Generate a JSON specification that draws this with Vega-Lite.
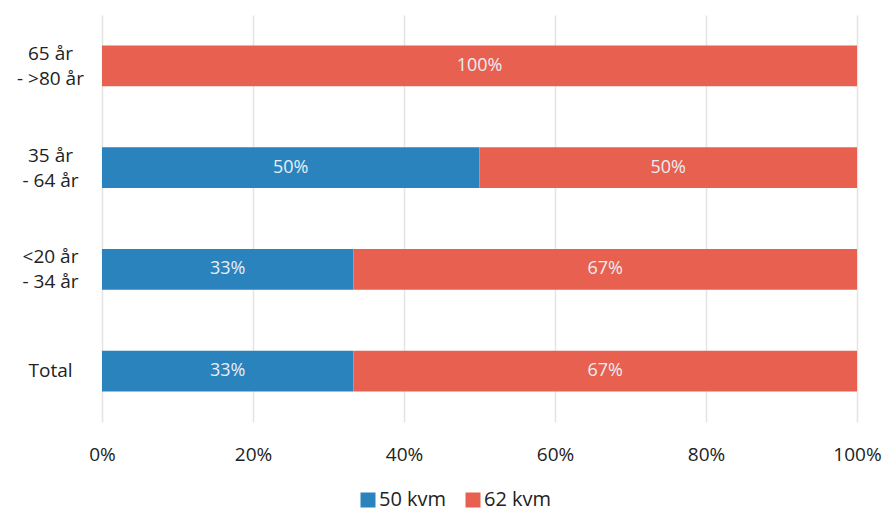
{
  "$schema": "https://vega.github.io/schema/vega-lite/v6.json",
  "autosize": "none",
  "width": 755,
  "height": 407,
  "padding": {"left": 102, "top": 15, "right": 30, "bottom": 92},
  "background": "white",
  "data": {
    "values": [
      {"group": "65 år|- >80 år", "size": "50 kvm", "pct": 0, "label": ""},
      {"group": "65 år|- >80 år", "size": "62 kvm", "pct": 100, "label": "100%"},
      {"group": "35 år|- 64 år", "size": "50 kvm", "pct": 50, "label": "50%"},
      {"group": "35 år|- 64 år", "size": "62 kvm", "pct": 50, "label": "50%"},
      {"group": "<20 år|- 34 år", "size": "50 kvm", "pct": 33.3, "label": "33%"},
      {"group": "<20 år|- 34 år", "size": "62 kvm", "pct": 66.7, "label": "67%"},
      {"group": "Total", "size": "50 kvm", "pct": 33.3, "label": "33%"},
      {"group": "Total", "size": "62 kvm", "pct": 66.7, "label": "67%"}
    ]
  },
  "config": {
    "font": "Open Sans",
    "view": {"stroke": null}
  },
  "encoding": {
    "y": {
      "field": "group",
      "type": "nominal",
      "sort": null,
      "title": null,
      "scale": {"paddingInner": 0.6, "paddingOuter": 0.3},
      "axis": {
        "domain": false,
        "ticks": false,
        "labelExpr": "split(datum.label, '|')",
        "labelAlign": "center",
        "labelPadding": 52,
        "labelFontSize": 19,
        "labelColor": "#222222",
        "labelLineHeight": 25,
        "labelOffset": {"condition": {"test": "indexof(datum.value, '|') >= 0", "value": -12}, "value": 0}
      }
    }
  },
  "layer": [
    {
      "mark": {"type": "bar"},
      "encoding": {
        "x": {
          "field": "pct",
          "type": "quantitative",
          "stack": "zero",
          "scale": {"domain": [0, 100]},
          "title": null,
          "axis": {
            "values": [0, 20, 40, 60, 80, 100],
            "labelExpr": "datum.value + '%'",
            "domain": false,
            "ticks": false,
            "grid": true,
            "gridColor": "#e4e4e4",
            "gridWidth": 1.5,
            "labelFontSize": 19,
            "labelColor": "#222222",
            "labelPadding": 23,
            "labelFlush": false
          }
        },
        "color": {
          "field": "size",
          "type": "nominal",
          "scale": {"domain": ["50 kvm", "62 kvm"], "range": ["#2a83bd", "#e8604f"]},
          "legend": {
            "title": null,
            "orient": "none",
            "direction": "horizontal",
            "legendX": 256,
            "legendY": 475,
            "symbolType": "square",
            "symbolSize": 225,
            "symbolStrokeWidth": 0,
            "labelFontSize": 20,
            "labelColor": "#222222",
            "columnPadding": 16,
            "labelOffset": 1
          }
        }
      }
    },
    {
      "mark": {"type": "text", "color": "#e8eef5", "fontSize": 18, "align": "center", "baseline": "middle"},
      "encoding": {
        "x": {"field": "pct", "type": "quantitative", "stack": "zero", "bandPosition": 0.5},
        "detail": {"field": "size"},
        "text": {"field": "label"}
      }
    }
  ]
}
